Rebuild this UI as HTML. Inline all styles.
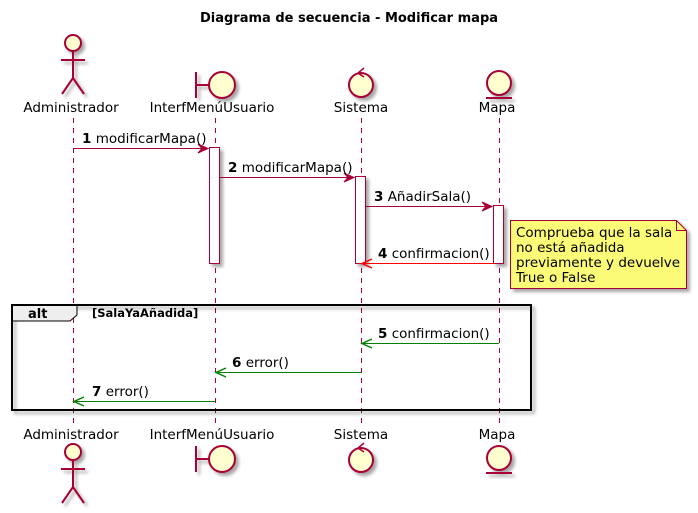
<!DOCTYPE html>
<html><head><meta charset="utf-8"><style>
html,body{margin:0;padding:0;background:#fff;}
svg{display:block;font-family:"DejaVu Sans","Liberation Sans",sans-serif;}
</style></head><body>
<svg width="698" height="513" viewBox="0 0 698 513" xmlns="http://www.w3.org/2000/svg">
<defs>
<filter id="sh" x="-20%" y="-20%" width="150%" height="150%"><feGaussianBlur in="SourceAlpha" stdDeviation="1.5"/><feOffset dx="3" dy="3"/><feComponentTransfer><feFuncA type="linear" slope="0.35"/></feComponentTransfer><feMerge><feMergeNode/><feMergeNode in="SourceGraphic"/></feMerge></filter>
</defs>
<text x="349" y="22" text-anchor="middle" font-size="13" font-weight="bold" fill="#000">Diagrama de secuencia - Modificar mapa</text>

<!-- lifelines -->
<g stroke="#A80036" stroke-width="1" stroke-dasharray="5,5">
<line x1="73.5" y1="118" x2="73.5" y2="425"/>
<line x1="215.5" y1="118" x2="215.5" y2="425"/>
<line x1="361.5" y1="118" x2="361.5" y2="425"/>
<line x1="499.5" y1="118" x2="499.5" y2="425"/>
</g>

<!-- top participants -->
<g fill="#FEFECE" stroke="#A80036" stroke-width="2" filter="url(#sh)">
<circle cx="73" cy="43" r="8"/>
<path d="M73 51 V78 M61 60 H85 M73 78 L62 94 M73 78 L84 94" fill="none"/>
<path d="M196 72 V98 M196 85 H209" fill="none"/>
<circle cx="222" cy="85" r="13"/>
<circle cx="361" cy="85" r="12"/>
<circle cx="499" cy="83" r="12"/>
<path d="M486 98 H512" fill="none"/>
</g>
<path d="M364 68 L358 73 L364 77" fill="none" stroke="#A80036" stroke-width="1.5"/>
<g font-size="13.5" fill="#000" text-anchor="middle">
<text x="71" y="112">Administrador</text>
<text x="212" y="112">InterfMenúUsuario</text>
<text x="361" y="112">Sistema</text>
<text x="497" y="112">Mapa</text>
<text x="71" y="439">Administrador</text>
<text x="212" y="439">InterfMenúUsuario</text>
<text x="361" y="439">Sistema</text>
<text x="497" y="439">Mapa</text>
</g>

<!-- bottom participants -->
<g fill="#FEFECE" stroke="#A80036" stroke-width="2" filter="url(#sh)">
<circle cx="73" cy="452" r="8"/>
<path d="M73 460 V487 M61 469 H85 M73 487 L62 503 M73 487 L84 503" fill="none"/>
<path d="M196 446 V472 M196 459 H209" fill="none"/>
<circle cx="222" cy="459" r="13"/>
<circle cx="361" cy="460" r="12"/>
<circle cx="499" cy="458" r="12"/>
<path d="M486 473 H512" fill="none"/>
</g>
<path d="M364 443 L358 448 L364 452" fill="none" stroke="#A80036" stroke-width="1.5"/>

<!-- activations -->
<g fill="#fff" stroke="#A80036" stroke-width="1" filter="url(#sh)">
<rect x="209.5" y="147.5" width="10" height="116"/>
<rect x="355.5" y="176.5" width="10" height="87"/>
<rect x="493.5" y="205.5" width="10" height="58"/>
</g>

<!-- messages -->
<g font-size="13.5" fill="#000">
<line x1="73" y1="148.5" x2="208" y2="148.5" stroke="#A80036"/>
<path d="M198 144 L208 148.5 L198 153 L202 148.5 Z" fill="#A80036" stroke="#A80036"/>
<text x="82" y="143"><tspan font-weight="bold">1</tspan> modificarMapa()</text>

<line x1="220" y1="177.5" x2="354" y2="177.5" stroke="#A80036"/>
<path d="M344 173 L354 177.5 L344 182 L348 177.5 Z" fill="#A80036" stroke="#A80036"/>
<text x="228" y="172"><tspan font-weight="bold">2</tspan> modificarMapa()</text>

<line x1="366" y1="206.5" x2="492" y2="206.5" stroke="#A80036"/>
<path d="M482 202 L492 206.5 L482 211 L486 206.5 Z" fill="#A80036" stroke="#A80036"/>
<text x="374" y="201"><tspan font-weight="bold">3</tspan> AñadirSala()</text>

<line x1="494" y1="263.5" x2="362" y2="263.5" stroke="#FF0000"/>
<path d="M372 259 L362 263.5 L372 268" fill="none" stroke="#FF0000" stroke-width="1.5"/>
<text x="378" y="258"><tspan font-weight="bold">4</tspan> confirmacion()</text>

<line x1="499" y1="343.5" x2="362" y2="343.5" stroke="#008000"/>
<path d="M372 339 L362 343.5 L372 348" fill="none" stroke="#008000" stroke-width="1.5"/>
<text x="378" y="338"><tspan font-weight="bold">5</tspan> confirmacion()</text>

<line x1="361" y1="372.5" x2="216" y2="372.5" stroke="#008000"/>
<path d="M226 368 L216 372.5 L226 377" fill="none" stroke="#008000" stroke-width="1.5"/>
<text x="232" y="367"><tspan font-weight="bold">6</tspan> error()</text>

<line x1="215" y1="401.5" x2="74" y2="401.5" stroke="#008000"/>
<path d="M84 397 L74 401.5 L84 406" fill="none" stroke="#008000" stroke-width="1.5"/>
<text x="92" y="396"><tspan font-weight="bold">7</tspan> error()</text>
</g>

<!-- note -->
<g filter="url(#sh)">
<path d="M510.5 220.5 H676.5 L686.5 230.5 V288.5 H510.5 Z" fill="#FBFB77" stroke="#A80036"/>
<path d="M676.5 220.5 V230.5 H686.5" fill="none" stroke="#A80036"/>
</g>
<g font-size="13.5" fill="#000">
<text x="516" y="237">Comprueba que la sala</text>
<text x="516" y="252">no está añadida</text>
<text x="516" y="267">previamente y devuelve</text>
<text x="516" y="282">True o False</text>
</g>

<!-- alt frame -->
<g filter="url(#sh)">
<rect x="12" y="305" width="519" height="105" fill="none" stroke="#000" stroke-width="2"/>
</g>
<path d="M12 305 H77 V315 L70 321 H12 Z" fill="#EEEEEE" stroke="#000" stroke-width="1"/>
<rect x="12" y="305" width="519" height="105" fill="none" stroke="#000" stroke-width="2"/>
<text x="28" y="318" font-size="13" font-weight="bold">alt</text>
<text x="92" y="317" font-size="11.5" font-weight="bold">[SalaYaAñadida]</text>
</svg>
</body></html>
